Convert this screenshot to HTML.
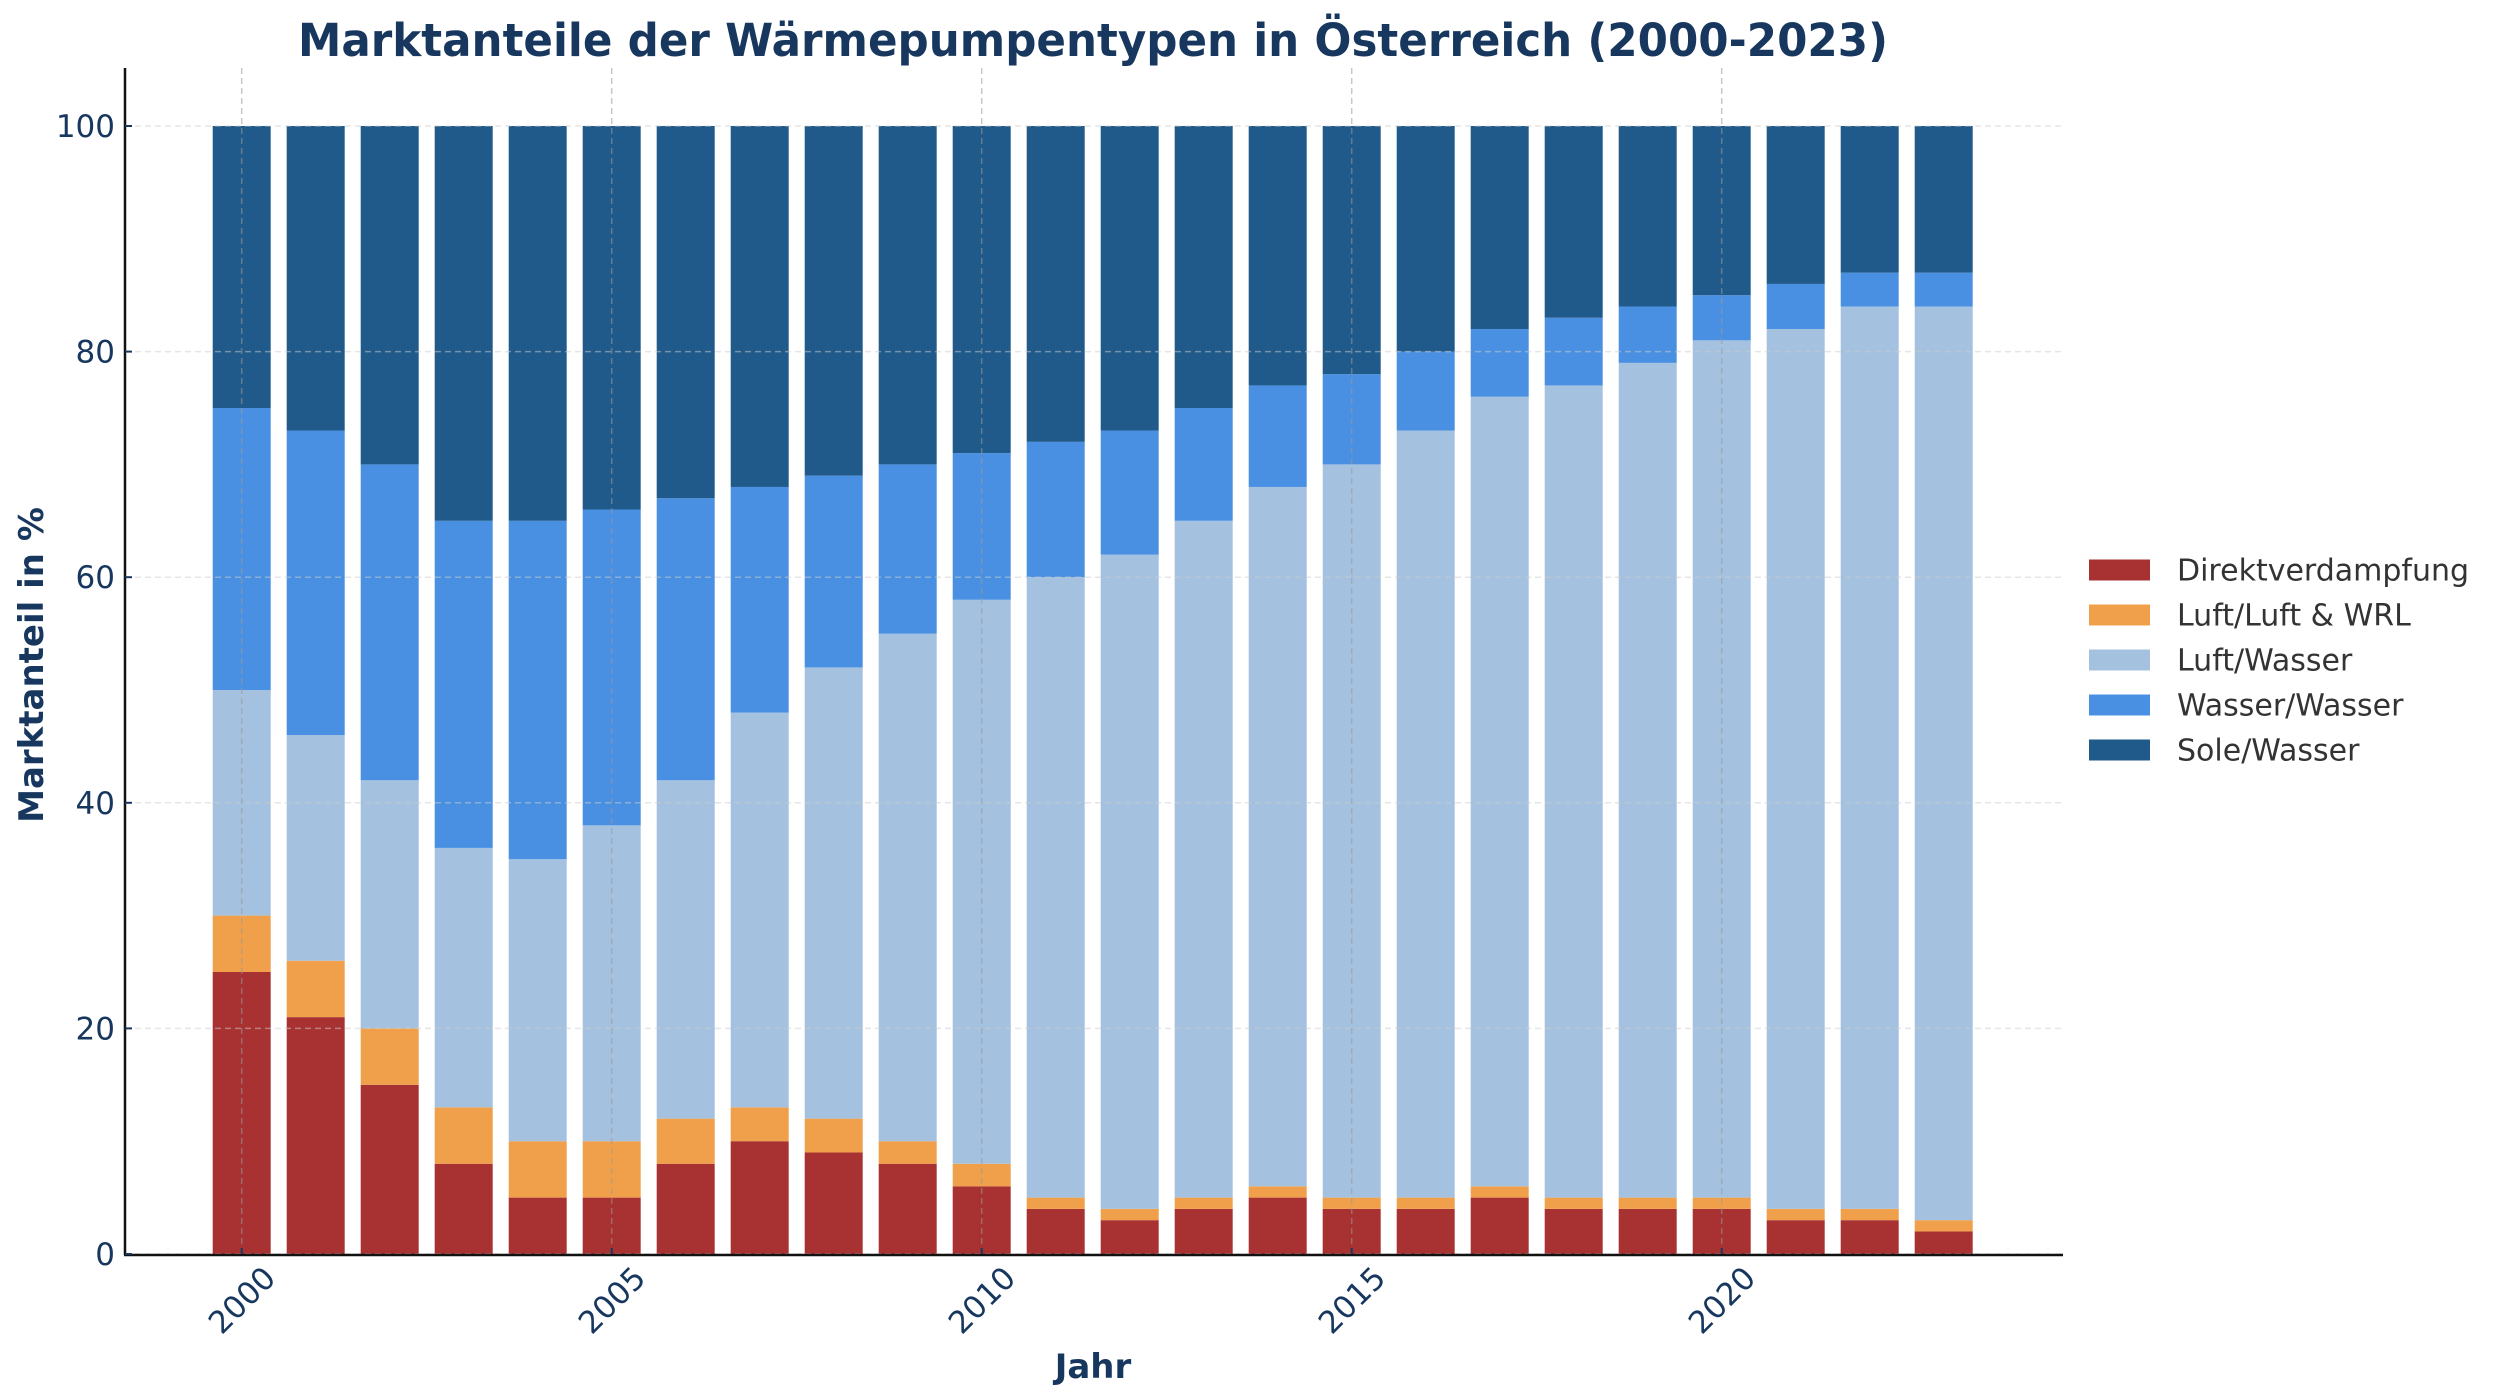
<!DOCTYPE html>
<html><head><meta charset="utf-8">
<style>
html,body{margin:0;padding:0;background:#fff;}
svg{display:block;font-family:"DejaVu Sans","Liberation Sans",sans-serif;}
</style></head>
<body>
<svg id="chart" width="2500" height="1398" viewBox="0 0 2500 1398" xmlns="http://www.w3.org/2000/svg">
<rect x="0" y="0" width="2500" height="1398" fill="#fff"/>
<text x="1093" y="56" text-anchor="middle" font-size="45" font-weight="bold" fill="#17375e" textLength="1590" lengthAdjust="spacingAndGlyphs">Marktanteile der Wärmepumpentypen in Österreich (2000-2023)</text>
<g id="bars"></g>
<g id="grid"></g>
<g id="axes"></g>
<text x="1093" y="1378" text-anchor="middle" font-size="34" font-weight="bold" fill="#17375e">Jahr</text>
<text transform="translate(43,665) rotate(-90)" text-anchor="middle" font-size="34" font-weight="bold" fill="#17375e">Marktanteil in %</text>
<g id="legend"></g>
</svg>
<script>
const years = [2000,2001,2002,2003,2004,2005,2006,2007,2008,2009,2010,2011,2012,2013,2014,2015,2016,2017,2018,2019,2020,2021,2022,2023];
const direkt = [25,21,15,8,5,5,8,10,9,8,6,4,3,4,5,4,4,5,4,4,4,3,3,2];
const luftLuft = [5,5,5,5,5,5,4,3,3,2,2,1,1,1,1,1,1,1,1,1,1,1,1,1];
const luftWasser = [20,20,22,23,25,28,30,35,40,45,50,55,58,60,62,65,68,70,72,74,76,78,80,81];
const wasserWasser = [25,27,28,29,30,28,25,20,17,15,13,12,11,10,9,8,7,6,6,5,4,4,3,3];
const soleWasser = [25,27,30,35,35,34,33,32,31,30,29,28,27,25,23,22,20,18,17,16,15,14,13,13];
const seriesNames = ["Direktverdampfung","Luft/Luft & WRL","Luft/Wasser","Wasser/Wasser","Sole/Wasser"];
const yTicks = [0,20,40,60,80,100];
const xTicks = [2000,2005,2010,2015,2020];

const NS="http://www.w3.org/2000/svg";
const colors=["#a83232","#f0a04b","#a4c2e0","#4a90e2","#205a8a"];
const X0=125, X1=2063, Y0=1254, YTOP=68;
const xs = y => 241.7 + (y-2000)*74.0;
const ys = v => Y0 - v*11.28;
const bw = 58;
function mk(tag, attrs, parent){const e=document.createElementNS(NS,tag);for(const k in attrs)e.setAttribute(k,attrs[k]);parent.appendChild(e);return e;}
const series=[direkt,luftLuft,luftWasser,wasserWasser,soleWasser];
const gB=document.getElementById('bars');
years.forEach((yr,i)=>{
  let base=0;
  series.forEach((s,k)=>{
    const v=s[i];
    const r=mk('rect',{x:xs(yr)-bw/2,y:ys(base+v),width:bw,height:ys(base)-ys(base+v),fill:colors[k]},gB);
    
    
    base+=v;
  });
});
const gG=document.getElementById('grid');
yTicks.forEach(t=>{
  const l=mk('line',{x1:X0,x2:X1,y1:ys(t),y2:ys(t),stroke:'#cccccc','stroke-opacity':0.5,'stroke-width':1.5,'stroke-dasharray':'6,4'},gG);
  
  
});
xTicks.forEach(t=>{
  const l=mk('line',{x1:xs(t),x2:xs(t),y1:YTOP,y2:Y0,stroke:'#999999','stroke-opacity':0.55,'stroke-width':1.5,'stroke-dasharray':'6,4'},gG);
  
  
});
const gA=document.getElementById('axes');
mk('line',{x1:X0,x2:X0,y1:YTOP,y2:Y0+1,stroke:'#111','stroke-width':2.5},gA);
mk('line',{x1:X0-1,x2:X1,y1:Y0+1,y2:Y0+1,stroke:'#111','stroke-width':2.5},gA);
yTicks.forEach(t=>{
  const tk=mk('line',{x1:X0,x2:X0+7,y1:ys(t),y2:ys(t),stroke:'#17375e','stroke-width':2},gA);
  
  
  const tx=mk('text',{x:X0-10,y:ys(t)+11,'text-anchor':'end','font-size':31,fill:'#17375e'},gA);
  tx.textContent=t;
  
  
});
xTicks.forEach(t=>{
  const tk=mk('line',{x1:xs(t),x2:xs(t),y1:Y0,y2:Y0-6,stroke:'#17375e','stroke-width':2},gA);
  
  
  const cx=xs(t), cy=1300;
  const tx=mk('text',{x:cx,y:cy+11,'text-anchor':'middle','font-size':31,fill:'#17375e',transform:'rotate(-45 '+cx+' '+cy+')'},gA);
  tx.textContent=t;
  
  
});
const gL=document.getElementById('legend');
seriesNames.forEach((n,k)=>{
  const cy=570+k*45;
  const p=mk('rect',{x:2089,y:cy-10.5,width:61,height:21,fill:colors[k]},gL);
  
  
  const t=mk('text',{x:2177,y:cy+10.5,'font-size':30,fill:'#333'},gL);
  t.textContent=n;
  
  
});
</script>
</body></html>
